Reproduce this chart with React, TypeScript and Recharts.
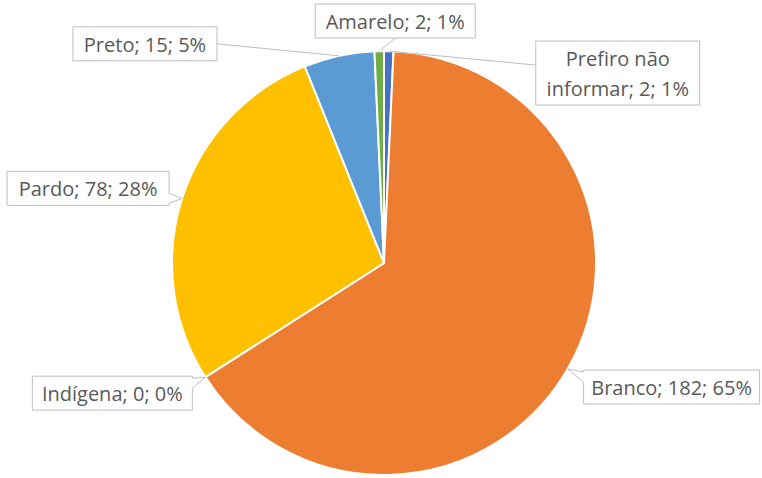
import { Cell, Pie, PieChart } from 'recharts';

const categories = ['Prefiro não informar', 'Branco', 'Indígena', 'Pardo', 'Preto', 'Amarelo'];
const counts = [2, 182, 0, 78, 15, 2];
const colors = ['#4472C4', '#ED7D31', '#A5A5A5', '#FFC000', '#5B9BD5', '#70AD47'];

// callout box placement relative to the slice's outer edge point
const callouts = [
  { dx: 229, dy: 22, w: 164, h: 64, leader: 'line' },
  { dx: 104, dy: 18, w: 176, h: 34, leader: 'wedge' },
  { dx: -93, dy: 16, w: 160, h: 34, leader: 'wedge' },
  { dx: -94, dy: -10, w: 162, h: 34, leader: 'wedge' },
  { dx: -194, dy: -12, w: 144, h: 34, leader: 'line' },
  { dx: 16, dy: -30, w: 160, h: 34, leader: 'line' },
];

const data = categories.map((name, i) => ({ name, value: counts[i] }));

const RADIAN = Math.PI / 180;
const BORDER = '#BFBFBF';
const TEXT = '#595959';

function wrapWords(text: string, maxChars: number) {
  const words = text.split(' ');
  const lines: string[] = [];
  let cur = '';
  for (const w of words) {
    const next = cur ? `${cur} ${w}` : w;
    if (next.length > maxChars && cur) {
      lines.push(cur);
      cur = w;
    } else {
      cur = next;
    }
  }
  if (cur) lines.push(cur);
  return lines;
}

function CalloutLabel(props: any) {
  const { cx, cy, midAngle, outerRadius, index, name, value, percent } = props;
  const c = callouts[index];
  const ax = cx + outerRadius * Math.cos(-midAngle * RADIAN);
  const ay = cy + outerRadius * Math.sin(-midAngle * RADIAN);
  const bx = ax + c.dx;
  const by = ay + c.dy;
  const left = bx - c.w / 2;
  const right = bx + c.w / 2;
  const top = by - c.h / 2;
  const bottom = by + c.h / 2;
  const text = `${name}; ${value}; ${Math.round(percent * 100)}%`;
  const lines = c.h > 40 ? wrapWords(text, 16) : [text];

  let edge: 'left' | 'right' | 'top' | 'bottom';
  if (ax < left) edge = 'left';
  else if (ax > right) edge = 'right';
  else if (ay > bottom) edge = 'bottom';
  else edge = 'top';

  let shape;
  if (c.leader === 'wedge') {
    const hw = 5;
    const clampY = Math.min(Math.max(ay, top + hw + 2), bottom - hw - 2);
    const clampX = Math.min(Math.max(ax, left + hw + 2), right - hw - 2);
    let d = '';
    if (edge === 'left') {
      d = `M${left},${top} H${right} V${bottom} H${left} V${clampY + hw} L${ax},${ay} L${left},${clampY - hw} Z`;
    } else if (edge === 'right') {
      d = `M${left},${top} H${right} V${clampY - hw} L${ax},${ay} L${right},${clampY + hw} V${bottom} H${left} Z`;
    } else if (edge === 'bottom') {
      d = `M${left},${top} H${right} V${bottom} H${clampX + hw} L${ax},${ay} L${clampX - hw},${bottom} H${left} Z`;
    } else {
      d = `M${left},${top} H${clampX - hw} L${ax},${ay} L${clampX + hw},${top} H${right} V${bottom} H${left} Z`;
    }
    shape = <path d={d} fill="#fff" stroke={BORDER} strokeWidth={1} />;
  } else {
    let sx = bx;
    let sy = by;
    if (edge === 'left') {
      sx = left;
      sy = top + 24;
    } else if (edge === 'right') sx = right;
    else if (edge === 'bottom') sy = bottom;
    else sy = top;
    shape = (
      <g>
        <line x1={sx} y1={sy} x2={ax} y2={ay} stroke={BORDER} strokeWidth={1} />
        <rect x={left} y={top} width={c.w} height={c.h} fill="#fff" stroke={BORDER} strokeWidth={1} />
      </g>
    );
  }

  const lineH = 30;
  const firstY = by - ((lines.length - 1) * lineH) / 2;
  return (
    <g>
      {shape}
      <text
        x={bx}
        y={firstY}
        textAnchor="middle"
        dominantBaseline="central"
        fill={TEXT}
        fontSize={20}
        fontFamily="'Open Sans', sans-serif"
      >
        {lines.map((l, i) => (
          <tspan key={i} x={bx} y={firstY + i * lineH}>
            {l}
          </tspan>
        ))}
      </text>
    </g>
  );
}

export default function App() {
  return (
    <div style={{ position: 'absolute', left: 0, top: 0, background: '#fff' }}>
      <PieChart width={762} height={478} margin={{ top: 0, right: 0, bottom: 0, left: 0 }}>
        <Pie
          data={data}
          dataKey="value"
          nameKey="name"
          cx={384}
          cy={263}
          outerRadius={212}
          startAngle={90}
          endAngle={-270}
          stroke="#fff"
          strokeWidth={2}
          labelLine={false}
          label={CalloutLabel}
          isAnimationActive={false}
        >
          {data.map((d, i) => (
            <Cell key={d.name} fill={colors[i]} />
          ))}
        </Pie>
      </PieChart>
    </div>
  );
}
